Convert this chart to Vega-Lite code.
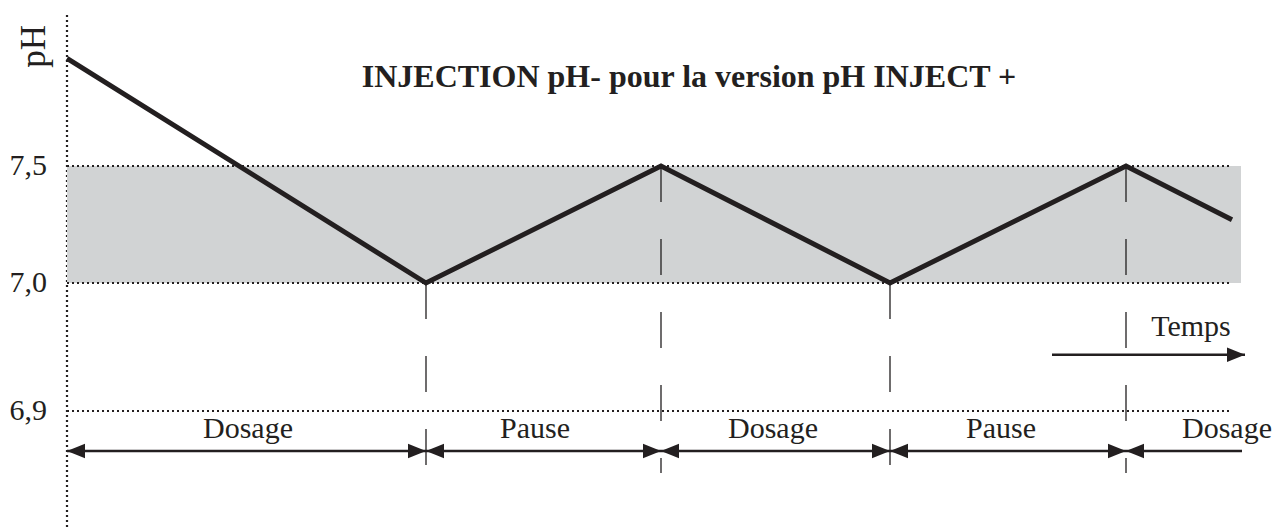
{
  "$schema": "https://vega.github.io/schema/vega-lite/v6.json",
  "width": 1220,
  "height": 527,
  "autosize": "none",
  "padding": {"left": 67, "top": 0, "right": 0, "bottom": 0},
  "background": "white",
  "config": {
    "view": {"stroke": null},
    "font": "Liberation Serif",
    "axisY": {
      "ticks": false,
      "grid": false,
      "translate": 0,
      "labelFont": "Liberation Serif",
      "labelFontSize": 30,
      "labelColor": "#231f20",
      "labelPadding": 20,
      "labelBaseline": "middle",
      "labelOverlap": false,
      "labelFlush": false,
      "domainDash": [2, 3],
      "domainWidth": 2.2,
      "domainColor": "#231f20",
      "titleFont": "Liberation Serif",
      "titleFontSize": 35,
      "titleFontWeight": "normal",
      "titleColor": "#231f20",
      "titleAnchor": "end",
      "titleAngle": 270,
      "titleAlign": "right",
      "titleBaseline": "alphabetic",
      "titleX": -22,
      "titleY": 25
    }
  },
  "title": {
    "text": "INJECTION pH- pour la version pH INJECT +",
    "font": "Liberation Serif",
    "fontSize": 32,
    "fontWeight": "bold",
    "color": "#231f20",
    "anchor": "middle",
    "frame": "group",
    "baseline": "alphabetic",
    "offset": 0,
    "dx": 12,
    "dy": 119
  },
  "datasets": {
    "band": [{"t0": 0, "t1": 1174, "lo": 7.0, "hi": 7.5}],
    "levels": [
      {"ph": 7.5, "t0": 0, "t1": 1165},
      {"ph": 7.0, "t0": 0, "t1": 1165},
      {"ph": 6.9, "t0": 0, "t1": 1163}
    ],
    "switches": [
      {"t": 359, "top": 7.0, "bottom": 6.745},
      {"t": 594, "top": 7.5, "bottom": 6.745},
      {"t": 823, "top": 7.0, "bottom": 6.745},
      {"t": 1059, "top": 7.5, "bottom": 6.745}
    ],
    "phases": [
      {"phase": "Dosage", "t0": 0, "t1": 359, "lt": 181, "ph": 6.8, "ly": 6.8325},
      {"phase": "Pause", "t0": 359, "t1": 594, "lt": 468, "ph": 6.8, "ly": 6.8325},
      {"phase": "Dosage", "t0": 594, "t1": 823, "lt": 706, "ph": 6.8, "ly": 6.8325},
      {"phase": "Pause", "t0": 823, "t1": 1059, "lt": 934, "ph": 6.8, "ly": 6.8325},
      {"phase": "Dosage", "t0": 1059, "t1": 1175, "lt": 1160, "ph": 6.8, "ly": 6.8325}
    ],
    "temps": [{"label": "Temps", "t0": 985, "t1": 1178, "ph": 6.944, "lt": 1124, "ly": 6.9586}],
    "heads": [
      {"t": 0, "ph": 6.8, "dir": "left"},
      {"t": 359, "ph": 6.8, "dir": "right"},
      {"t": 359, "ph": 6.8, "dir": "left"},
      {"t": 594, "ph": 6.8, "dir": "right"},
      {"t": 594, "ph": 6.8, "dir": "left"},
      {"t": 823, "ph": 6.8, "dir": "right"},
      {"t": 823, "ph": 6.8, "dir": "left"},
      {"t": 1059, "ph": 6.8, "dir": "right"},
      {"t": 1059, "ph": 6.8, "dir": "left"},
      {"t": 1178, "ph": 6.944, "dir": "right"}
    ],
    "curve": [
      {"t": 0, "ph": 7.96},
      {"t": 359, "ph": 7.0},
      {"t": 594, "ph": 7.5},
      {"t": 823, "ph": 7.0},
      {"t": 1059, "ph": 7.5},
      {"t": 1165, "ph": 7.27}
    ]
  },
  "layer": [
    {
      "data": {"name": "band"},
      "mark": {"type": "rect", "color": "#d1d3d4"},
      "encoding": {
        "x": {"field": "t0", "type": "quantitative", "scale": {"type": "linear", "domain": [0, 1220], "nice": false, "zero": false}, "axis": null},
        "x2": {"field": "t1"},
        "y": {"field": "lo", "type": "quantitative", "scale": {"type": "linear", "domain": [6.61, 6.9, 7.0, 7.5, 8.15], "range": [527, 411, 283, 166, 14], "nice": false, "zero": false}, "axis": {"title": "pH", "values": [6.9, 7.0, 7.5], "labelExpr": "replace(format(datum.value, '.1f'), '.', ',')"}},
        "y2": {"field": "hi"}
      }
    },
    {
      "data": {"name": "levels"},
      "mark": {"type": "rule", "color": "#231f20", "strokeWidth": 2.2, "strokeDash": [2, 3]},
      "encoding": {
        "x": {"field": "t0", "type": "quantitative", "scale": {"type": "linear", "domain": [0, 1220], "nice": false, "zero": false}, "axis": null},
        "x2": {"field": "t1"},
        "y": {"field": "ph", "type": "quantitative", "scale": {"type": "linear", "domain": [6.61, 6.9, 7.0, 7.5, 8.15], "range": [527, 411, 283, 166, 14], "nice": false, "zero": false}, "axis": {"title": "pH", "values": [6.9, 7.0, 7.5], "labelExpr": "replace(format(datum.value, '.1f'), '.', ',')"}}
      }
    },
    {
      "data": {"name": "switches"},
      "mark": {"type": "rule", "color": "#231f20", "strokeWidth": 1.3, "strokeDash": [36, 37]},
      "encoding": {
        "x": {"field": "t", "type": "quantitative", "scale": {"type": "linear", "domain": [0, 1220], "nice": false, "zero": false}, "axis": null},
        "y": {"field": "top", "type": "quantitative", "scale": {"type": "linear", "domain": [6.61, 6.9, 7.0, 7.5, 8.15], "range": [527, 411, 283, 166, 14], "nice": false, "zero": false}, "axis": {"title": "pH", "values": [6.9, 7.0, 7.5], "labelExpr": "replace(format(datum.value, '.1f'), '.', ',')"}},
        "y2": {"field": "bottom"}
      }
    },
    {
      "data": {"name": "phases"},
      "mark": {"type": "rule", "color": "#231f20", "strokeWidth": 2.5},
      "encoding": {
        "x": {"field": "t0", "type": "quantitative", "scale": {"type": "linear", "domain": [0, 1220], "nice": false, "zero": false}, "axis": null},
        "x2": {"field": "t1"},
        "y": {"field": "ph", "type": "quantitative", "scale": {"type": "linear", "domain": [6.61, 6.9, 7.0, 7.5, 8.15], "range": [527, 411, 283, 166, 14], "nice": false, "zero": false}, "axis": {"title": "pH", "values": [6.9, 7.0, 7.5], "labelExpr": "replace(format(datum.value, '.1f'), '.', ',')"}}
      }
    },
    {
      "data": {"name": "temps"},
      "mark": {"type": "rule", "color": "#231f20", "strokeWidth": 2.5},
      "encoding": {
        "x": {"field": "t0", "type": "quantitative", "scale": {"type": "linear", "domain": [0, 1220], "nice": false, "zero": false}, "axis": null},
        "x2": {"field": "t1"},
        "y": {"field": "ph", "type": "quantitative", "scale": {"type": "linear", "domain": [6.61, 6.9, 7.0, 7.5, 8.15], "range": [527, 411, 283, 166, 14], "nice": false, "zero": false}, "axis": {"title": "pH", "values": [6.9, 7.0, 7.5], "labelExpr": "replace(format(datum.value, '.1f'), '.', ',')"}}
      }
    },
    {
      "data": {"name": "heads"},
      "mark": {"type": "point", "filled": true, "color": "#231f20", "opacity": 1, "size": 324, "strokeWidth": 0},
      "encoding": {
        "x": {"field": "t", "type": "quantitative", "scale": {"type": "linear", "domain": [0, 1220], "nice": false, "zero": false}, "axis": null},
        "y": {"field": "ph", "type": "quantitative", "scale": {"type": "linear", "domain": [6.61, 6.9, 7.0, 7.5, 8.15], "range": [527, 411, 283, 166, 14], "nice": false, "zero": false}, "axis": {"title": "pH", "values": [6.9, 7.0, 7.5], "labelExpr": "replace(format(datum.value, '.1f'), '.', ',')"}},
        "shape": {
          "field": "dir",
          "type": "nominal",
          "scale": {"domain": ["left", "right"], "range": ["M0,0L2,-0.8L2,0.8Z", "M0,0L-2,-0.8L-2,0.8Z"]},
          "legend": null
        }
      }
    },
    {
      "data": {"name": "curve"},
      "mark": {"type": "line", "color": "#231f20", "strokeWidth": 5, "strokeJoin": "miter", "strokeCap": "butt"},
      "encoding": {
        "x": {"field": "t", "type": "quantitative", "scale": {"type": "linear", "domain": [0, 1220], "nice": false, "zero": false}, "axis": null},
        "y": {"field": "ph", "type": "quantitative", "scale": {"type": "linear", "domain": [6.61, 6.9, 7.0, 7.5, 8.15], "range": [527, 411, 283, 166, 14], "nice": false, "zero": false}, "axis": {"title": "pH", "values": [6.9, 7.0, 7.5], "labelExpr": "replace(format(datum.value, '.1f'), '.', ',')"}}
      }
    },
    {
      "data": {"name": "phases"},
      "mark": {"type": "text", "font": "Liberation Serif", "fontSize": 30, "color": "#231f20", "align": "center", "baseline": "alphabetic"},
      "encoding": {
        "x": {"field": "lt", "type": "quantitative", "scale": {"type": "linear", "domain": [0, 1220], "nice": false, "zero": false}, "axis": null},
        "y": {"field": "ly", "type": "quantitative", "scale": {"type": "linear", "domain": [6.61, 6.9, 7.0, 7.5, 8.15], "range": [527, 411, 283, 166, 14], "nice": false, "zero": false}, "axis": {"title": "pH", "values": [6.9, 7.0, 7.5], "labelExpr": "replace(format(datum.value, '.1f'), '.', ',')"}},
        "text": {"field": "phase"}
      }
    },
    {
      "data": {"name": "temps"},
      "mark": {"type": "text", "font": "Liberation Serif", "fontSize": 30, "color": "#231f20", "align": "center", "baseline": "alphabetic"},
      "encoding": {
        "x": {"field": "lt", "type": "quantitative", "scale": {"type": "linear", "domain": [0, 1220], "nice": false, "zero": false}, "axis": null},
        "y": {"field": "ly", "type": "quantitative", "scale": {"type": "linear", "domain": [6.61, 6.9, 7.0, 7.5, 8.15], "range": [527, 411, 283, 166, 14], "nice": false, "zero": false}, "axis": {"title": "pH", "values": [6.9, 7.0, 7.5], "labelExpr": "replace(format(datum.value, '.1f'), '.', ',')"}},
        "text": {"field": "label"}
      }
    }
  ]
}
